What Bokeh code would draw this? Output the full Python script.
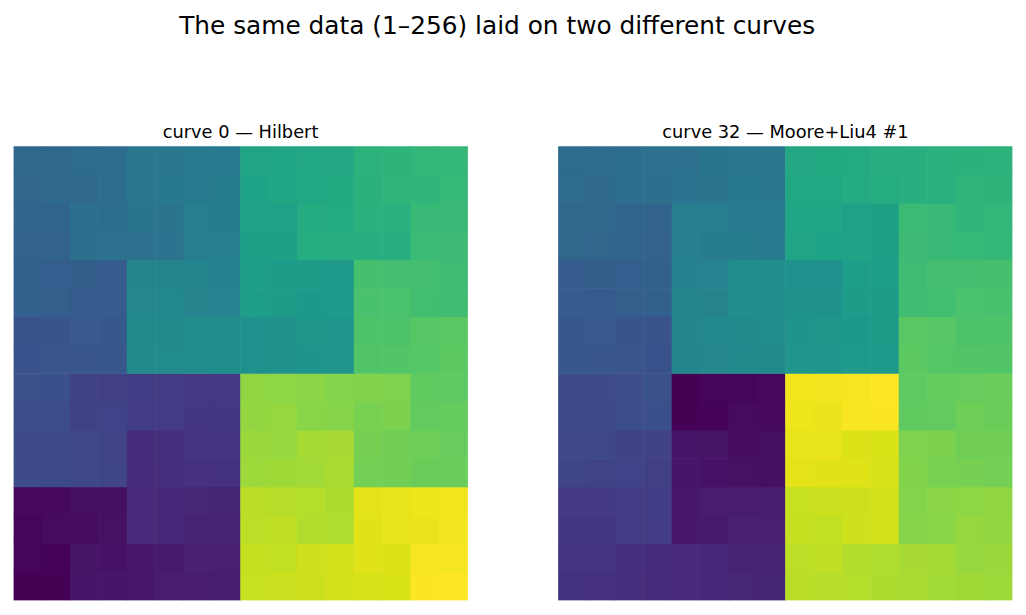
import numpy as np
from bokeh.plotting import figure
from bokeh.models import ColumnDataSource, LinearColorMapper, Range1d
from bokeh.palettes import Viridis256
from bokeh.core.properties import value
from bokeh.embed import file_html
from bokeh.resources import INLINE

suptitle = "The same data (1–256) laid on two different curves"
panel_titles = ["curve 0 — Hilbert", "curve 32 — Moore+Liu4 #1"]

# position of each cell along the curve, rows listed top to bottom as seen
hilbert_rows = [
    [86, 87, 90, 91, 102, 103, 106, 107, 150, 151, 154, 155, 166, 167, 170, 171],
    [85, 88, 89, 92, 101, 104, 105, 108, 149, 152, 153, 156, 165, 168, 169, 172],
    [84, 83, 94, 93, 100, 99, 110, 109, 148, 147, 158, 157, 164, 163, 174, 173],
    [81, 82, 95, 96, 97, 98, 111, 112, 145, 146, 159, 160, 161, 162, 175, 176],
    [80, 77, 76, 75, 118, 117, 116, 113, 144, 141, 140, 139, 182, 181, 180, 177],
    [79, 78, 73, 74, 119, 120, 115, 114, 143, 142, 137, 138, 183, 184, 179, 178],
    [66, 67, 72, 71, 122, 121, 126, 127, 130, 131, 136, 135, 186, 185, 190, 191],
    [65, 68, 69, 70, 123, 124, 125, 128, 129, 132, 133, 134, 187, 188, 189, 192],
    [64, 63, 50, 49, 48, 45, 44, 43, 214, 213, 212, 209, 208, 207, 194, 193],
    [61, 62, 51, 52, 47, 46, 41, 42, 215, 216, 211, 210, 205, 206, 195, 196],
    [60, 57, 56, 53, 34, 35, 40, 39, 218, 217, 222, 223, 204, 201, 200, 197],
    [59, 58, 55, 54, 33, 36, 37, 38, 219, 220, 221, 224, 203, 202, 199, 198],
    [6, 7, 10, 11, 32, 29, 28, 27, 230, 229, 228, 225, 246, 247, 250, 251],
    [5, 8, 9, 12, 31, 30, 25, 26, 231, 232, 227, 226, 245, 248, 249, 252],
    [4, 3, 14, 13, 18, 19, 24, 23, 234, 233, 238, 239, 244, 243, 254, 253],
    [1, 2, 15, 16, 17, 20, 21, 22, 235, 236, 237, 240, 241, 242, 255, 256],
]

moore_liu4_rows = [
    [91, 92, 93, 96, 97, 100, 101, 102, 155, 156, 157, 160, 161, 164, 165, 166],
    [90, 89, 94, 95, 98, 99, 104, 103, 154, 153, 158, 159, 162, 163, 168, 167],
    [87, 88, 83, 82, 111, 110, 105, 106, 151, 152, 147, 146, 175, 174, 169, 170],
    [86, 85, 84, 81, 112, 109, 108, 107, 150, 149, 148, 145, 176, 173, 172, 171],
    [75, 76, 77, 80, 113, 114, 127, 128, 129, 130, 143, 144, 177, 180, 181, 182],
    [74, 73, 78, 79, 116, 115, 126, 125, 132, 131, 142, 141, 178, 179, 184, 183],
    [71, 72, 67, 66, 117, 120, 121, 124, 133, 136, 137, 140, 191, 190, 185, 186],
    [70, 69, 68, 65, 118, 119, 122, 123, 134, 135, 138, 139, 192, 189, 188, 187],
    [59, 60, 61, 64, 1, 4, 5, 6, 251, 252, 253, 256, 193, 196, 197, 198],
    [58, 57, 62, 63, 2, 3, 8, 7, 250, 249, 254, 255, 194, 195, 200, 199],
    [55, 56, 51, 50, 15, 14, 9, 10, 247, 248, 243, 242, 207, 206, 201, 202],
    [54, 53, 52, 49, 16, 13, 12, 11, 246, 245, 244, 241, 208, 205, 204, 203],
    [43, 44, 45, 48, 17, 20, 21, 22, 235, 236, 237, 240, 209, 212, 213, 214],
    [42, 41, 46, 47, 18, 19, 24, 23, 234, 233, 238, 239, 210, 211, 216, 215],
    [39, 40, 35, 34, 31, 30, 25, 26, 231, 232, 227, 226, 223, 222, 217, 218],
    [38, 37, 36, 33, 32, 29, 28, 27, 230, 229, 228, 225, 224, 221, 220, 219],
]

n = 16
gap = 3.2        # white space between the two squares, in cells
font = value("DejaVu Sans")


def cells(rows, x0):
    grid = np.array(rows)[::-1]          # bottom row first, y goes up
    ys, xs = np.mgrid[0:n, 0:n]
    return ColumnDataSource(dict(x=(xs + x0 + 0.5).ravel(),
                                 y=(ys + 0.5).ravel(),
                                 v=grid.ravel()))


mapper = LinearColorMapper(palette=Viridis256, low=1, high=256)

x_end = 2 * n + gap
p = figure(width=1017, height=606, output_backend="svg", toolbar_location=None,
           x_range=Range1d(0, x_end), y_range=Range1d(0, 20.9),
           min_border_left=13, min_border_right=5, min_border_top=7, min_border_bottom=6)
p.xaxis.visible = False
p.yaxis.visible = False
p.grid.visible = False
p.outline_line_color = None
p.background_fill_color = "white"

offsets = [0, n + gap]
for rows, x0 in zip([hilbert_rows, moore_liu4_rows], offsets):
    # cells a hair larger than 1 so neighbours overlap and no seams show
    p.rect(x="x", y="y", width=1.02, height=1.02, source=cells(rows, x0),
           fill_color={"field": "v", "transform": mapper}, line_color=None)

# panel titles above each square, figure title on top
p.text(x=[x0 + n / 2 for x0 in offsets], y=[16.52, 16.52], text=panel_titles,
       text_font=font, text_font_size="17.8px", text_align="center",
       text_baseline="alphabetic", text_color="black")
p.text(x=[17.04], y=[20.26], text=[suptitle],
       text_font=font, text_font_size="24.8px", text_align="center",
       text_baseline="alphabetic", text_color="black")

open("out.html", "w").write(file_html(p, INLINE))
